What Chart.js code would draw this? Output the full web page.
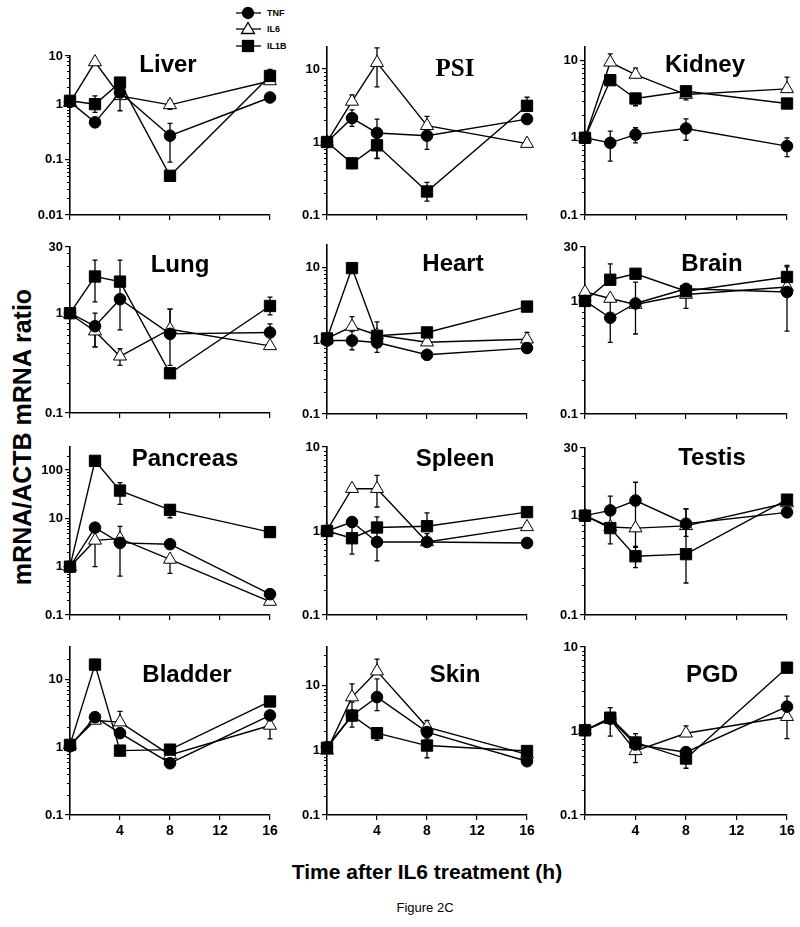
<!DOCTYPE html>
<html>
<head>
<meta charset="utf-8">
<script src="https://cdn.jsdelivr.net/npm/chart.js@4.4.0/dist/chart.umd.min.js"></script>
<style>
  html, body { margin: 0; padding: 0; background: #fff; }
  body { width: 800px; height: 927px; position: relative; overflow: hidden; font-family: "Liberation Sans", Arial, sans-serif; }
  canvas.panel { position: absolute; }
  #legend { position: absolute; left: 0; top: 0; }
  #ytitle { position: absolute; left: 22px; top: 437px; transform: translate(-50%, -50%) rotate(-90deg); font-weight: bold; font-size: 25px; white-space: nowrap; }
  #xtitle { position: absolute; left: 427px; top: 872px; transform: translate(-50%, -50%); font-weight: bold; font-size: 21px; white-space: nowrap; }
  #caption { position: absolute; left: 425px; top: 907px; transform: translate(-50%, -50%); font-size: 13px; white-space: nowrap; }
</style>
</head>
<body>
<svg id="legend" width="300" height="60">
  <g stroke="#000" stroke-width="1.3">
    <line x1="236" y1="13" x2="261" y2="13"/>
    <circle cx="248" cy="13" r="5.5" fill="#000"/>
    <line x1="236" y1="29" x2="261" y2="29"/>
    <polygon points="248,22.5 254.5,33.5 241.5,33.5" fill="#fff"/>
    <line x1="236" y1="46" x2="261" y2="46"/>
    <rect x="242.5" y="40.5" width="11" height="11" fill="#000"/>
  </g>
  <g font-family="Liberation Sans, Arial, sans-serif" font-weight="bold" font-size="9" fill="#000">
    <text x="267" y="16">TNF</text>
    <text x="267" y="32">IL6</text>
    <text x="267" y="49">IL1B</text>
  </g>
</svg>
<div id="ytitle">mRNA/ACTB mRNA ratio</div>
<div id="xtitle">Time after IL6 treatment (h)</div>
<div id="caption">Figure 2C</div>
<script>
// time points (h)
const times = [0, 2, 4, 8, 16];
const xTicks = [0, 4, 8, 12, 16];

const tissues = ['Liver', 'PSI', 'Kidney', 'Lung', 'Heart', 'Brain',
                 'Pancreas', 'Spleen', 'Testis', 'Bladder', 'Skin', 'PGD'];

// TNF
const tnf = [
  [1.1, 0.47, 1.62, 0.27, 1.32],
  [1, 2.12, 1.33, 1.22, 2.06],
  [1, 0.86, 1.1, 1.32, 0.78],
  [1, 0.74, 1.38, 0.62, 0.64],
  [1, 1.0, 0.94, 0.64, 0.79],
  [1, 0.71, 0.95, 1.28, 1.2],
  [1, 6.43, 3.11, 2.92, 0.27],
  [1, 1.28, 0.74, 0.74, 0.72],
  [1, 1.13, 1.42, 0.83, 1.08],
  [1.03, 2.77, 1.61, 0.58, 2.94],
  [1.13, 3.47, 6.7, 1.92, 0.68],
  [1.02, 1.4, 0.69, 0.56, 1.95]
];
const tnfHi = [
  [null, null, null, 0.45, null],
  [null, 2.76, 2.06, 1.55, null],
  [null, 1.22, 1.35, 1.76, 1.0],
  [null, 1.0, 3.4, 1.1, 0.78],
  [null, 1.33, 1.19, null, null],
  [null, 1.08, 1.47, null, 2.0],
  [null, null, null, null, null],
  [null, null, 1.12, null, null],
  [null, 1.57, 2.17, 1.17, null],
  [null, null, null, null, null],
  [null, null, 12.8, null, null],
  [null, null, null, null, 2.6]
];
const tnfLo = [
  [null, null, null, 0.09, null],
  [null, 1.64, 0.6, 0.79, null],
  [null, 0.5, 0.86, 0.93, 0.57],
  [null, 0.46, 0.68, 0.3, null],
  [null, 0.75, 0.69, 0.55, null],
  [null, 0.43, 0.51, null, 0.54],
  [null, null, null, null, null],
  [null, null, 0.44, null, null],
  [null, 0.52, 0.48, null, null],
  [null, null, null, null, null],
  [null, null, 4.15, null, null],
  [null, null, null, null, null]
];

// IL6
const il6 = [
  [1.07, 5.76, 1.41, 0.97, 2.62],
  [1, 3.59, 12.2, 1.67, 0.95],
  [1, 9.5, 6.6, 3.63, 4.3],
  [0.98, 0.66, 0.37, 0.69, 0.47],
  [1.07, 1.55, 1.19, 0.95, 1.04],
  [1.2, 1.05, 0.93, 1.14, 1.33],
  [1, 3.5, 3.8, 1.41, 0.19],
  [1.02, 3.19, 3.19, 0.74, 1.12],
  [1, 0.77, 0.75, 0.79, 1.34],
  [1.08, 2.48, 2.34, 0.77, 2.09],
  [1, 6.7, 16.9, 2.3, 0.87],
  [1.02, 1.38, 0.58, 0.94, 1.48]
];
const il6Hi = [
  [null, null, 1.78, 1.18, 3.2],
  [null, 4.4, 19.5, 2.24, null],
  [null, 12.2, 8.0, null, 6.1],
  [null, null, 0.44, 1.1, null],
  [null, 2.12, null, null, 1.29],
  [null, null, null, null, null],
  [null, null, 6.8, null, null],
  [null, null, 4.6, 0.93, null],
  [null, null, null, null, null],
  [null, null, 3.37, null, null],
  [null, 10.7, 26, 2.9, null],
  [null, 1.9, null, 1.15, null]
];
const il6Lo = [
  [null, null, 0.76, 0.81, null],
  [null, null, 5.7, null, null],
  [null, null, null, 3.1, null],
  [null, 0.46, 0.3, null, null],
  [null, null, null, null, null],
  [null, null, null, 0.86, null],
  [null, 1.0, 0.64, 0.73, null],
  [null, null, 1.93, 0.67, null],
  [null, null, null, 0.62, null],
  [null, null, null, null, 1.33],
  [null, null, null, null, null],
  [null, 0.87, 0.42, null, 0.81]
];

// IL1B
const il1b = [
  [1.15, 1.0, 2.45, 0.051, 3.23],
  [1, 0.51, 0.9, 0.21, 3.13],
  [1, 5.57, 3.23, 4.0, 2.78],
  [1.0, 2.33, 2.07, 0.25, 1.18],
  [1.07, 9.7, 1.16, 1.29, 2.9],
  [1.0, 1.54, 1.74, 1.22, 1.63],
  [1, 155, 37.6, 15, 5.2],
  [1, 0.82, 1.1, 1.14, 1.68],
  [1, 0.75, 0.39, 0.41, 1.45],
  [1.08, 16.5, 0.89, 0.92, 4.72],
  [1.1, 3.47, 1.85, 1.19, 0.98],
  [1.02, 1.44, 0.73, 0.47, 5.67]
];
const il1bHi = [
  [null, 1.41, null, null, 4.25],
  [null, null, 1.26, 0.28, 4.1],
  [null, 6.1, null, null, null],
  [null, 3.4, null, null, 1.45],
  [null, null, 1.8, null, null],
  [null, 2.13, null, null, 2.06],
  [null, null, 55, 19, null],
  [null, 1.12, 1.47, 1.64, null],
  [null, null, 0.49, 1.17, null],
  [null, 19.7, null, null, null],
  [null, 5.6, null, 1.51, null],
  [null, null, 0.93, null, null]
];
const il1bLo = [
  [null, 0.71, null, null, null],
  [null, null, 0.59, 0.155, null],
  [null, null, 2.6, null, null],
  [null, 1.3, null, null, 0.96],
  [null, null, null, null, null],
  [null, null, null, null, null],
  [null, null, 19.4, 10.3, null],
  [null, 0.53, null, null, null],
  [null, null, 0.3, 0.21, null],
  [null, null, 0.75, null, null],
  [null, 2.3, 1.43, 0.77, null],
  [null, null, null, 0.36, null]
];

// y axes
const yMin = [0.01, 0.1, 0.1, 0.1, 0.1, 0.1, 0.1, 0.1, 0.1, 0.1, 0.1, 0.1];
const yMax = [7.4, 20, 15, 4.6, 20, 3, 300, 10, 4.8, 30, 40, 10];
const yTicks = [
  [0.01, 0.1, 1, 7.4], [0.1, 1, 10], [0.1, 1, 10],
  [0.1, 1, 4.6], [0.1, 1, 10], [0.1, 1, 3],
  [0.1, 1, 10, 100], [0.1, 1, 10], [0.1, 1, 4.8],
  [0.1, 1, 10], [0.1, 1, 10], [0.1, 1, 10]
];
const yTickLabels = [
  ['0.01', '0.1', '1', '10'], ['0.1', '1', '10'], ['0.1', '1', '10'],
  ['0.1', '1', '30'], ['0.1', '1', '10'], ['0.1', '1', '30'],
  ['0.1', '1', '10', '100'], ['0.1', '1', '10'], ['0.1', '1', '30'],
  ['0.1', '1', '10'], ['0.1', '1', '10'], ['0.1', '1', '10']
];

// layout: plot area [left, right, top, bottom] and panel-name centre on the page
const boxes = [
  [70, 270, 56, 215], [327, 527, 47, 215], [585, 787, 47, 215],
  [70, 270, 247, 413], [327, 527, 245, 414], [585, 787, 247, 414],
  [70, 270, 447, 615], [327, 527, 447, 615], [585, 787, 448, 615],
  [70, 270, 647, 815], [327, 527, 647, 815], [585, 787, 647, 815]
];
const nameCenters = [
  [168, 63], [455, 67], [705, 63],
  [180, 263], [453, 262], [712, 262],
  [185, 457], [455, 457], [712, 456],
  [187, 673], [455, 673], [712, 673]
];
const PAD_L = 50, PAD_T = 12, PAD_R = 14, PAD_B = 28;

const errorBars = {
  id: 'errorBars',
  beforeDatasetsDraw(chart) {
    const ctx = chart.ctx, xs = chart.scales.x, ys = chart.scales.y;
    ctx.save();
    ctx.strokeStyle = '#000';
    ctx.lineWidth = 1.3;
    chart.data.datasets.forEach(ds => {
      ds.data.forEach((pt, i) => {
        const px = xs.getPixelForValue(pt.x);
        const py = ys.getPixelForValue(pt.y);
        [ds.errHi[i], ds.errLo[i]].forEach(e => {
          if (e == null) return;
          const pe = ys.getPixelForValue(e);
          ctx.beginPath();
          ctx.moveTo(px, py);
          ctx.lineTo(px, pe);
          ctx.moveTo(px - 2.5, pe);
          ctx.lineTo(px + 2.5, pe);
          ctx.stroke();
        });
      });
    });
    ctx.restore();
  }
};

// small log ticks + panel name
const decor = {
  id: 'decor',
  afterDraw(chart, args, opts) {
    const ctx = chart.ctx, ys = chart.scales.y, left = chart.chartArea.left;
    ctx.save();
    ctx.strokeStyle = '#000';
    ctx.lineWidth = 1;
    for (let d = Math.floor(Math.log10(ys.min)); d <= Math.ceil(Math.log10(ys.max)); d++) {
      for (let k = 2; k <= 9; k++) {
        const v = k * Math.pow(10, d);
        if (v <= ys.min || v >= ys.max) continue;
        const py = Math.round(ys.getPixelForValue(v)) + 0.5;
        ctx.beginPath();
        ctx.moveTo(left - 3, py);
        ctx.lineTo(left, py);
        ctx.stroke();
      }
    }
    ctx.fillStyle = '#000';
    ctx.textAlign = 'center';
    ctx.textBaseline = 'alphabetic';
    ctx.font = opts.serif ? 'bold 25px "Liberation Serif", serif' : 'bold 24px "Liberation Sans", Arial, sans-serif';
    ctx.fillText(opts.text, opts.x, opts.y);
    ctx.restore();
  }
};

const tickFont = { family: 'Liberation Sans', size: 13, weight: 'bold' };

function series(vals, hi, lo) {
  return { data: times.map((t, i) => ({ x: t, y: vals[i] })), errHi: hi, errLo: lo };
}

tissues.forEach((name, p) => {
  const [L, R, T, B] = boxes[p];
  const cv = document.createElement('canvas');
  cv.className = 'panel';
  cv.width = (R - L) + PAD_L + PAD_R;
  cv.height = (B - T) + PAD_T + PAD_B;
  cv.style.left = (L - PAD_L) + 'px';
  cv.style.top = (T - PAD_T) + 'px';
  document.body.appendChild(cv);
  const bottomRow = p >= 9;
  const common = { borderColor: '#000', borderWidth: 1.4, pointBorderColor: '#000', pointBorderWidth: 1, clip: false, tension: 0 };

  new Chart(cv.getContext('2d'), {
    type: 'line',
    data: {
      datasets: [
        Object.assign({ label: 'IL1B', pointStyle: 'rect', pointRadius: 8, pointBackgroundColor: '#000' }, common, series(il1b[p], il1bHi[p], il1bLo[p])),
        Object.assign({ label: 'TNF', pointStyle: 'circle', pointRadius: 5.8, pointBackgroundColor: '#000' }, common, series(tnf[p], tnfHi[p], tnfLo[p])),
        Object.assign({ label: 'IL6', pointStyle: 'triangle', pointRadius: 7.5, pointBackgroundColor: '#fff' }, common, series(il6[p], il6Hi[p], il6Lo[p]))
      ]
    },
    options: {
      responsive: false,
      animation: false,
      events: [],
      layout: { padding: { left: 0, top: PAD_T, right: PAD_R, bottom: 0 } },
      plugins: {
        legend: { display: false },
        tooltip: { enabled: false },
        decor: {
          text: name,
          serif: name === 'PSI',
          x: nameCenters[p][0] - (L - PAD_L),
          y: nameCenters[p][1] - (T - PAD_T) + 8.5
        }
      },
      scales: {
        x: {
          type: 'linear', min: 0, max: 16,
          afterBuildTicks: s => { s.ticks = xTicks.map(v => ({ value: v })); },
          afterFit: s => { s.height = PAD_B; },
          ticks: {
            autoSkip: false, maxRotation: 0, padding: 3, color: '#000', font: { family: 'Liberation Sans', size: 14, weight: 'bold' },
            callback: v => (bottomRow && v !== 0) ? String(v) : ''
          },
          grid: { drawOnChartArea: false, tickLength: 5, color: '#000', lineWidth: 1.2 },
          border: { color: '#000', width: 1.6 }
        },
        y: {
          type: 'logarithmic', min: yMin[p], max: yMax[p],
          afterBuildTicks: s => { s.ticks = yTicks[p].map(v => ({ value: v, major: true })); },
          afterFit: s => { s.width = PAD_L; },
          ticks: {
            autoSkip: false, padding: 2, color: '#000', font: tickFont,
            callback: (v, i) => yTickLabels[p][i]
          },
          grid: { drawOnChartArea: false, tickLength: 5, color: '#000', lineWidth: 1.2 },
          border: { color: '#000', width: 1.6 }
        }
      }
    },
    plugins: [errorBars, decor]
  });
});
</script>
</body>
</html>
